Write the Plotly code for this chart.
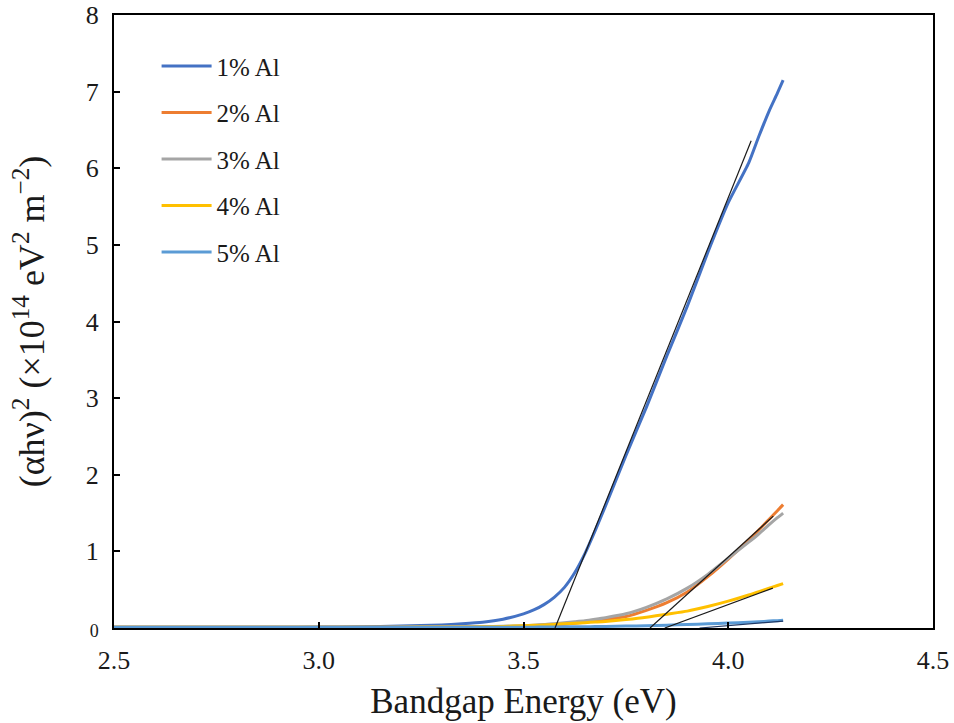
import plotly.graph_objects as go

# Photon energy grid (eV)
energy = [2.50, 2.60, 2.70, 2.80, 2.90, 3.00, 3.10, 3.20, 3.30, 3.35, 3.40, 3.45,
          3.50, 3.525, 3.55, 3.575, 3.60, 3.625, 3.65, 3.675, 3.70, 3.75, 3.80, 3.85, 3.90, 3.95, 4.00,
          4.05, 4.075, 4.10, 4.12, 4.134]

# (alpha h nu)^2 in units of 1e14 eV^2 m^-2
al1 = [0.010, 0.010, 0.010, 0.010, 0.010, 0.012, 0.015, 0.025, 0.040, 0.055, 0.075, 0.115,
       0.185, 0.235, 0.305, 0.400, 0.530, 0.720, 0.970, 1.270, 1.590, 2.250, 2.880, 3.550, 4.200, 4.900, 5.550,
       6.070, 6.420, 6.750, 6.980, 7.150]
al2 = [0.010, 0.010, 0.010, 0.010, 0.010, 0.010, 0.010, 0.010, 0.012, 0.013, 0.015, 0.017,
       0.020, 0.025, 0.030, 0.040, 0.050, 0.062, 0.075, 0.092, 0.110, 0.150, 0.230, 0.330, 0.470, 0.670, 0.900,
       1.150, 1.280, 1.420, 1.530, 1.610]
al3 = [0.010, 0.010, 0.010, 0.010, 0.010, 0.010, 0.010, 0.012, 0.014, 0.016, 0.018, 0.022,
       0.030, 0.037, 0.045, 0.057, 0.070, 0.082, 0.095, 0.114, 0.135, 0.185, 0.270, 0.380, 0.520, 0.700, 0.910,
       1.120, 1.230, 1.350, 1.440, 1.500]
al4 = [0.010, 0.010, 0.010, 0.010, 0.010, 0.010, 0.010, 0.011, 0.012, 0.013, 0.015, 0.020,
       0.030, 0.035, 0.040, 0.047, 0.055, 0.062, 0.070, 0.077, 0.085, 0.110, 0.140, 0.180, 0.220, 0.280, 0.350,
       0.430, 0.475, 0.520, 0.555, 0.580]
al5 = [0.010, 0.010, 0.010, 0.010, 0.010, 0.010, 0.010, 0.010, 0.010, 0.010, 0.010, 0.010,
       0.010, 0.011, 0.012, 0.013, 0.015, 0.016, 0.017, 0.018, 0.020, 0.025, 0.030, 0.037, 0.045, 0.055, 0.065,
       0.075, 0.082, 0.090, 0.096, 0.100]

series_names = ["1% Al", "2% Al", "3% Al", "4% Al", "5% Al"]
series_values = [al1, al2, al3, al4, al5]
series_colors = ["#4472C4", "#ED7D31", "#A5A5A5", "#FFC000", "#5B9BD5"]

# Linear extrapolations of the absorption edges: (x_start, x_end), (y_start, y_end)
fit_x = [[3.577, 4.056], [3.809, 4.110], [3.845, 4.109], [3.930, 4.134]]
fit_y = [[0.0, 6.36], [0.0, 1.46], [0.0, 0.52], [0.0, 0.09]]
fit_colors = ["#1a1a1a", "#1a1a1a", "#1a1a1a", "#1f3864"]

# Axis ticks
x_ticks = [2.5, 3.0, 3.5, 4.0, 4.5]
x_ticktext = ["2.5", "3.0", "3.5", "4.0", "4.5"]
y_ticks = [0, 1, 2, 3, 4, 5, 6, 7, 8]
y_ticktext = ['<span style="font-size:18px">0</span>', "1", "2", "3", "4", "5", "6", "7", "8"]

SERIF = "Liberation Serif"
INK = "#1a1a1a"

fig = go.Figure()

for i, (name, vals, col) in enumerate(zip(series_names, series_values, series_colors)):
    fig.add_trace(go.Scatter(
        x=energy, y=vals, name=name, mode="lines",
        line=dict(color=col, width=3, shape="spline", smoothing=0.6),
        legendgroup=f"g{i}",
    ))

for fx, fy, fc in zip(fit_x, fit_y, fit_colors):
    fig.add_trace(go.Scatter(
        x=fx, y=fy, mode="lines", showlegend=False,
        line=dict(color=fc, width=1.2),
    ))

fig.update_layout(
    width=954, height=723,
    margin=dict(l=114, r=21, t=15, b=95),
    paper_bgcolor="white", plot_bgcolor="white",
    font=dict(family=SERIF, color=INK),
    showlegend=True,
    legend=dict(
        x=0.052, y=0.954, xanchor="left", yanchor="top",
        bgcolor="rgba(0,0,0,0)", itemwidth=50,
        font=dict(family=SERIF, size=25, color=INK),
        tracegroupgap=11,
    ),
)

fig.update_xaxes(
    range=[2.5, 4.5], tickvals=x_ticks, ticktext=x_ticktext,
    showgrid=False, zeroline=False, automargin=False,
    showline=True, linecolor="black", linewidth=2, mirror=True,
    ticks="inside", ticklen=6, tickwidth=1.5, tickcolor="black",
    ticklabelstandoff=8,
    tickfont=dict(family=SERIF, size=26, color=INK),
    title=dict(text="Bandgap Energy (eV)", font=dict(family=SERIF, size=35, color=INK), standoff=14),
)
fig.update_yaxes(
    range=[0, 8], tickvals=y_ticks, ticktext=y_ticktext,
    showgrid=False, zeroline=False, automargin=False,
    showline=True, linecolor="black", linewidth=2, mirror=True,
    ticks="inside", ticklen=6, tickwidth=1.5, tickcolor="black",
    ticklabelstandoff=8,
    tickfont=dict(family=SERIF, size=26, color=INK),
    title=dict(text="(αhν)<sup>2</sup> (×10<sup>14</sup> eV<sup>2</sup> m<sup>−2</sup>)",
               font=dict(family=SERIF, size=36, color=INK), standoff=30),
)

fig.write_html("out.html")
